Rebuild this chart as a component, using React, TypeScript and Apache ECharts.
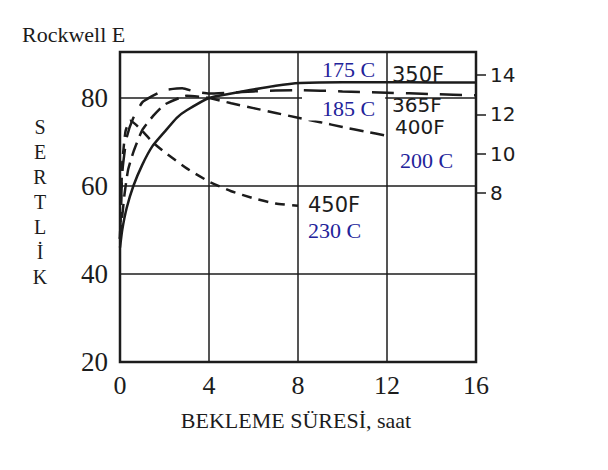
import React, { useEffect, useRef } from "react";
import * as echarts from "echarts";

// ---- data ----
const xTicks = [0, 4, 8, 12, 16];
const leftTicks = [20, 40, 60, 80];
const rightTicks = [8, 10, 12, 14];

const t350 = [0, 0.1, 0.3, 0.6, 1, 1.45, 2, 2.55, 3, 4, 5, 5.85, 7, 8.1, 10, 12, 14, 16];
const h350 = [46, 50, 55, 60, 64.8, 69, 72.3, 75.5, 77.2, 80, 81, 81.8, 82.8, 83.4, 83.6, 83.6, 83.5, 83.5];

const t365 = [0, 0.1, 0.3, 0.6, 1, 1.4, 2, 2.8, 3.4, 4, 5, 6, 8, 10, 12, 14, 16];
const h365 = [48, 63, 71, 75.5, 79, 80.3, 81.8, 82.2, 81.4, 81, 81.2, 81.5, 81.8, 81.5, 81.2, 80.9, 80.6];

const t400 = [0, 0.2, 0.36, 0.6, 1, 1.5, 2, 3, 4, 5, 6, 7, 8, 9, 10, 11, 12];
const h400 = [48, 58, 63.6, 67.7, 72.7, 76, 78.5, 80.5, 80, 78.8, 77.7, 76.6, 75.5, 74.5, 73.4, 72.4, 71.4];

const t450 = [0, 0.1, 0.25, 0.45, 0.7, 1, 1.5, 2, 3, 4, 5, 6, 7, 8];
const h450 = [48, 65, 72.5, 74.8, 74, 72.5, 69.8, 67.7, 64, 61, 58.8, 57.2, 56, 55.5];

const zip = (a: number[], b: number[]) => a.map((v, i) => [v, b[i]]);

const INK = "#1c1c1c";
const BLUE = "#23239a";
const SERIF = "'Liberation Serif', 'DejaVu Serif', serif";
const SANS = "'DejaVu Sans', sans-serif";

export default function App() {
  const ref = useRef<HTMLDivElement>(null);
  useEffect(() => {
    if (!ref.current) return;
    const chart = echarts.init(ref.current, undefined, { renderer: "svg" });
    const lineBase = (name: string, data: number[][], type: any) => ({
      name,
      type: "line",
      data,
      showSymbol: false,
      symbol: "none",
      smooth: 0.15,
      lineStyle: { color: INK, width: 2.5, type },
      z: 5,
    });
    const blueText = (text: string, x: number, y: number, bg = false) => ({
      type: "text",
      x,
      y,
      z: 100,
      style: {
        text,
        fill: BLUE,
        font: `22px ${SERIF}`,
        textAlign: "left",
        textVerticalAlign: "middle",
        ...(bg ? { backgroundColor: "#fff", padding: [1, 10, 1, 20] } : {}),
      },
    });
    const blackText = (text: string, x: number, y: number, size = 21) => ({
      type: "text",
      x,
      y,
      z: 100,
      style: {
        text,
        fill: INK,
        font: `${size}px ${SANS}`,
        lineHeight: size,
        textAlign: "left",
        textVerticalAlign: "middle",
      },
    });
    chart.setOption({
      animation: false,
      backgroundColor: "#ffffff",
      grid: {
        left: 120,
        top: 52,
        width: 356,
        height: 310,
        show: true,
        borderColor: INK,
        borderWidth: 2.5,
        backgroundColor: "transparent",
      },
      xAxis: {
        type: "value",
        min: xTicks[0],
        max: xTicks[xTicks.length - 1],
        interval: 4,
        axisLine: { show: false },
        axisTick: { show: false },
        axisLabel: {
          color: INK,
          fontFamily: SERIF,
          fontSize: 26,
          margin: 10,
        },
        splitLine: { show: true, lineStyle: { color: INK, width: 1.5 } },
      },
      yAxis: [
        {
          type: "value",
          min: leftTicks[0],
          max: 90.45,
          interval: 20,
          axisLine: { show: false },
          axisTick: { show: false },
          axisLabel: {
            color: INK,
            fontFamily: SERIF,
            fontSize: 27,
            margin: 12,
            customValues: leftTicks,
          },
          splitLine: { show: true, lineStyle: { color: INK, width: 1.5 } },
        },
        {
          type: "value",
          position: "right",
          min: -0.63,
          max: 15.18,
          axisLine: { show: false },
          axisTick: {
            show: true,
            length: 10,
            customValues: rightTicks,
            lineStyle: { color: INK, width: 1.5 },
          },
          axisLabel: {
            color: INK,
            fontFamily: SANS,
            fontSize: 20,
            margin: 14,
            customValues: rightTicks,
          },
          splitLine: { show: false },
        },
      ],
      series: [
        lineBase("350F", zip(t350, h350), "solid"),
        lineBase("365F", zip(t365, h365), [22, 12]),
        lineBase("400F", zip(t400, h400), [14, 7]),
        lineBase("450F", zip(t450, h450), [10, 7]),
      ],
      graphic: [
        {
          type: "text",
          x: 22,
          y: 34,
          z: 100,
          style: {
            text: "Rockwell E",
            fill: INK,
            font: `22px ${SERIF}`,
            textAlign: "left",
            textVerticalAlign: "middle",
          },
        },
        {
          type: "text",
          x: 40,
          y: 202,
          z: 100,
          style: {
            text: "S\nE\nR\nT\nL\nİ\nK",
            fill: INK,
            font: `20px ${SERIF}`,
            lineHeight: 25,
            textAlign: "center",
            textVerticalAlign: "middle",
          },
        },
        {
          type: "text",
          x: 296,
          y: 420,
          z: 100,
          style: {
            text: "BEKLEME SÜRESİ, saat",
            fill: INK,
            font: `22px ${SERIF}`,
            textAlign: "center",
            textVerticalAlign: "middle",
          },
        },
        blackText("350F", 392, 75),
        blackText("365F", 392, 105, 20),
        blackText("400F", 395, 126.5, 20),
        blackText("450F", 308, 204.5),
        blueText("175 C", 322, 69.5),
        blueText("185 C", 302, 108.5, true),
        blueText("200 C", 400, 160),
        blueText("230 C", 308, 230.5),
      ],
    });
    return () => chart.dispose();
  }, []);
  return (
    <div
      ref={ref}
      style={{ position: "fixed", left: 0, top: 0, width: 608, height: 470 }}
    />
  );
}
